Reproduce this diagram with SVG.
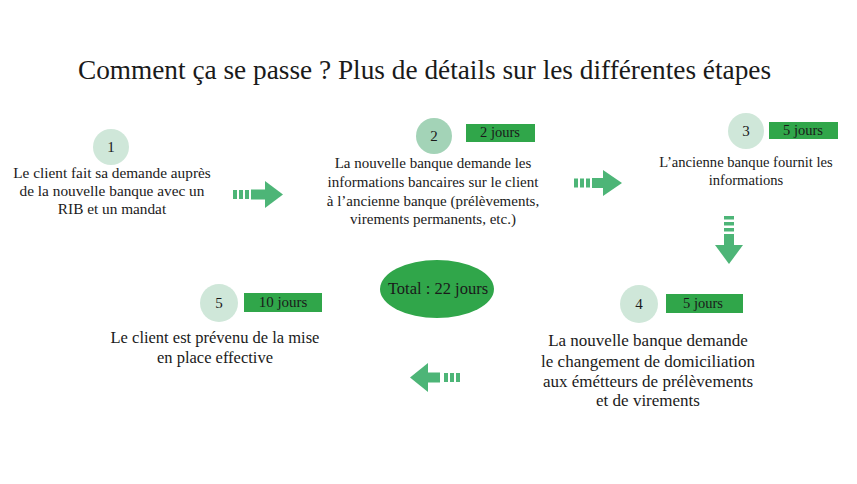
<svg xmlns="http://www.w3.org/2000/svg" width="857" height="484" viewBox="0 0 857 484">
<style>
.t{font-family:"Liberation Serif","Times New Roman",serif;fill:#1a1a1a;text-anchor:middle}
.title{font-size:27.3px}
.num{font-size:15px}
.badge{fill:#30a64a}
.bt{font-size:14.5px}
.cl{fill:#cfe7d9}
.cm{fill:#a3d3b7}
.ar{fill:#4db577}
</style>
<rect width="857" height="484" fill="#fff"/>
<text class="t title" x="424.5" y="79">Comment ça se passe ? Plus de détails sur les différentes étapes</text>
<g id="connectors">
<g id="arrow1" class="ar"><rect x="233" y="190" width="4" height="9"/><rect x="239" y="190" width="4" height="9"/><rect x="245" y="190" width="4" height="9"/><rect x="251" y="189.5" width="16" height="10"/><polygon points="265,181 283,194.5 265,208"/></g>
<g id="arrow2" class="ar"><rect x="574" y="178.5" width="4" height="9"/><rect x="580" y="178.5" width="4" height="9"/><rect x="586" y="178.5" width="4" height="9"/><rect x="592" y="178" width="13" height="10"/><polygon points="603,170 622,183 603,196"/></g>
<g id="arrow3" class="ar"><rect x="724" y="216" width="10" height="3.5"/><rect x="724" y="222" width="10" height="3.5"/><rect x="724" y="228" width="10" height="3.5"/><rect x="724" y="234" width="10" height="13"/><polygon points="715,245 743,245 729,264"/></g>
<g id="arrow4" class="ar"><polygon points="428,363 410,377.5 428,392"/><rect x="426" y="372.5" width="14" height="10"/><rect x="444" y="373" width="4" height="9"/><rect x="450" y="373" width="4" height="9"/><rect x="456" y="373" width="4" height="9"/></g>
</g>
<g id="step1">
<circle class="cl" cx="111" cy="147" r="18"/>
<text class="t num" x="111" y="152">1</text>
<g class="t" font-size="15.3">
<text x="112" y="178">Le client fait sa demande auprès</text>
<text x="112" y="196">de la nouvelle banque avec un</text>
<text x="112" y="214">RIB et un mandat</text>
</g>
</g>
<g id="step2">
<circle class="cm" cx="434" cy="136" r="18"/>
<text class="t num" x="434" y="141">2</text>
<rect class="badge" x="466" y="124" width="69" height="18"/>
<text class="t bt" x="500" y="137">2 jours</text>
<g class="t" font-size="15">
<text x="433" y="168">La nouvelle banque demande les</text>
<text x="433" y="187">informations bancaires sur le client</text>
<text x="433" y="206">à l’ancienne banque (prélèvements,</text>
<text x="433" y="224">virements permanents, etc.)</text>
</g>
</g>
<g id="step3">
<circle class="cl" cx="746" cy="131" r="18"/>
<text class="t num" x="746" y="136">3</text>
<rect class="badge" x="769" y="122" width="69" height="17"/>
<text class="t bt" x="803" y="135">5 jours</text>
<g class="t" font-size="14.6">
<text x="746" y="167">L’ancienne banque fournit les</text>
<text x="746" y="185">informations</text>
</g>
</g>
<g id="total">
<ellipse class="badge" cx="437" cy="289" rx="57" ry="29"/>
<text class="t" x="438" y="294" font-size="16.5">Total : 22 jours</text>
</g>
<g id="step4">
<circle class="cl" cx="639" cy="304" r="19"/>
<text class="t num" x="639" y="309">4</text>
<rect class="badge" x="666" y="294" width="77" height="19"/>
<text class="t bt" x="703" y="308">5 jours</text>
<g class="t" font-size="17">
<text x="648" y="346">La nouvelle banque demande</text>
<text x="648" y="367">le changement de domiciliation</text>
<text x="648" y="387">aux émétteurs de prélèvements</text>
<text x="648" y="406">et de virements</text>
</g>
</g>
<g id="step5">
<circle class="cl" cx="219" cy="303" r="19"/>
<text class="t num" x="219" y="308">5</text>
<rect class="badge" x="244" y="293" width="78" height="19"/>
<text class="t" x="283" y="307" font-size="15">10 jours</text>
<g class="t" font-size="16.5">
<text x="215" y="343">Le client est prévenu de la mise</text>
<text x="215" y="363">en place effective</text>
</g>
</g>
</svg>
